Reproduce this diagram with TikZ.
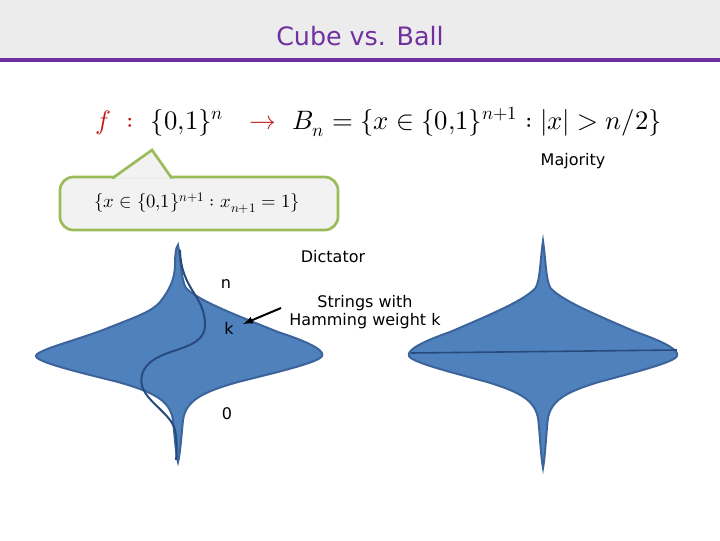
\documentclass[tikz,border=0pt]{standalone}
\usepackage{fontspec}
\setmainfont{DejaVu Sans}
\usepackage{unicode-math}
\setmathfont{Latin Modern Math}
\definecolor{ttl}{RGB}{112,48,160}
\definecolor{bfill}{RGB}{79,129,189}
\definecolor{bdraw}{RGB}{60,100,155}
\definecolor{bline}{RGB}{40,75,125}
\definecolor{grn}{RGB}{155,187,89}
\definecolor{rd}{rgb}{0.75,0.1,0.1}
\begin{document}
\begin{tikzpicture}[x=0.75pt,y=-0.75pt,
  blob/.style={fill=bfill, draw=bdraw, line width=1.5pt},
  lbl/.style={font=\fontsize{12}{14}\selectfont, inner sep=0pt, align=center}]
\useasboundingbox (0,0) rectangle (720,540);
\fill[gray!15] (0,0) rectangle (720,58);
\draw[line width=2.5pt,ttl] (0,60) -- (720,60);
\node[font=\fontsize{19}{22}\selectfont, text=ttl] (title) at (360,36) {Cube vs. Ball};
\node[anchor=west, font=\fontsize{20}{24}\selectfont, inner sep=0pt] (f) at (95,122)
 {$\textcolor{rd}{f\ :}\ \ \{0{,}1\}^n\ \ \ \textcolor{rd}{\rightarrow}\ \ B_n=\{x\in\{0{,}1\}^{n+1}:|x|>n/2\}$};
\node[lbl] (maj) at (573,161) {Majority};
\draw[line width=2pt, draw=grn, fill=gray!10, rounded corners=10pt]
  (60,177) rectangle (338,230);
\draw[line width=2pt, draw=grn, fill=gray!10]
  (112,178.5) -- (152,150) -- (172,178.5);
\fill[gray!10] (110,179) rectangle (174,184);
\node[font=\fontsize{14}{16}\selectfont] (cap) at (197,203) {$\{x\in\{0{,}1\}^{n+1}:x_{n+1}=1\}$};
\begin{scope}[shift={(178,0)}]
\path[blob] (0,245) .. controls (3,260) and (3,280) .. (8,288) .. controls (20,300) and (50,312) .. (100,332)
 .. controls (140,345) and (146,352) .. (144,356) .. controls (142,362) and (100,372) .. (60,382)
 .. controls (25,392) and (8,400) .. (5,420) .. controls (3,440) and (2,455) .. (0,462)
 .. controls (-2,455) and (-3,440) .. (-5,420) .. controls (-8,400) and (-25,392) .. (-60,382)
 .. controls (-100,372) and (-142,362) .. (-142,356) .. controls (-142,350) and (-100,340) .. (-70,328)
 .. controls (-40,316) and (-27,312) .. (-18,302) .. controls (-10,292) and (-3,280) .. (-3,265)
 .. controls (-3,255) and (-2,247) .. (0,245) -- cycle;
\draw[line width=1.5pt,bline] (2,250) .. controls (3,290) and (27,295) .. (27,325)
 .. controls (27,355) and (-28,345) .. (-36,375) .. controls (-42,398) and (-8,410) .. (-3,430) .. controls (-1,440) and (-1,450) .. (-2,460);
\end{scope}
\begin{scope}[shift={(543,0)}, xscale=0.93]
\path[blob] (0,241) .. controls (3,260) and (3,280) .. (8,288) .. controls (20,300) and (50,312) .. (100,332)
 .. controls (140,345) and (146,352) .. (144,356) .. controls (142,362) and (100,372) .. (60,382)
 .. controls (25,392) and (8,400) .. (5,420) .. controls (3,440) and (2,458) .. (0,468)
 .. controls (-2,458) and (-3,440) .. (-5,420) .. controls (-8,400) and (-25,392) .. (-60,382)
 .. controls (-100,372) and (-142,362) .. (-144,356) .. controls (-146,352) and (-140,345) .. (-100,332)
 .. controls (-50,312) and (-20,300) .. (-8,288) .. controls (-3,280) and (-3,260) .. (0,241) -- cycle;
\coordinate (ml) at (-142,353); \coordinate (mr) at (144,350);
\end{scope}
\draw[line width=1.2pt,bline] (ml) -- (mr);
\node[lbl] (n) at (226,284) {n};
\node[lbl] (k) at (229,328) {k};
\node[lbl] (z) at (227,414) {0};
\node[lbl] (dict) at (333,257) {Dictator};
\node[lbl] (str) at (365,312) {Strings with\\Hamming weight k};
\coordinate (ks) at (281,308);
\draw[line width=1.5pt,-latex] (ks) -- (243,324);
\end{tikzpicture}
\end{document}
